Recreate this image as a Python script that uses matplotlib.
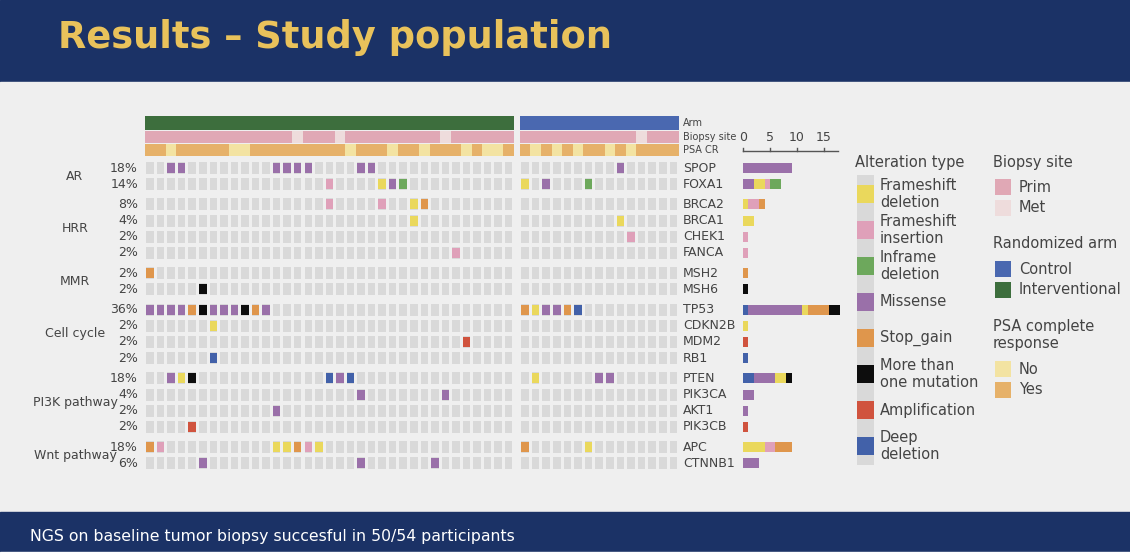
import matplotlib
matplotlib.use("Agg")
import matplotlib.pyplot as plt
from matplotlib.patches import Rectangle

genes = ["SPOP","FOXA1","BRCA2","BRCA1","CHEK1","FANCA","MSH2","MSH6","TP53","CDKN2B",
         "MDM2","RB1","PTEN","PIK3CA","AKT1","PIK3CB","APC","CTNNB1"]
percents = ["18%","14%","8%","4%","2%","2%","2%","2%","36%","2%","2%","2%","18%","4%","2%","2%","18%","6%"]
groups = ["AR","HRR","MMR","Cell cycle","PI3K pathway","Wnt pathway"]
group_sizes = [2,4,2,4,4,2]
# alterations: gene -> list of (patient column, code); columns 0-34 interventional, 35-49 control
alterations = {
 "SPOP":[(2,"M"),(3,"M"),(12,"M"),(13,"M"),(14,"M"),(15,"M"),(20,"M"),(21,"M"),(44,"M")],
 "FOXA1":[(17,"I"),(22,"D"),(23,"M"),(24,"F"),(35,"D"),(37,"M"),(41,"F")],
 "BRCA2":[(17,"I"),(22,"I"),(25,"D"),(26,"S")],
 "BRCA1":[(25,"D"),(44,"D")],
 "CHEK1":[(45,"I")],
 "FANCA":[(29,"I")],
 "MSH2":[(0,"S")],
 "MSH6":[(5,"X")],
 "TP53":[(0,"M"),(1,"M"),(2,"M"),(3,"M"),(4,"S"),(5,"X"),(6,"M"),(7,"M"),(8,"M"),(9,"X"),(10,"S"),(11,"M"),
         (35,"S"),(36,"D"),(37,"M"),(38,"M"),(39,"S"),(40,"L")],
 "CDKN2B":[(6,"D")],
 "MDM2":[(30,"A")],
 "RB1":[(6,"L")],
 "PTEN":[(2,"M"),(3,"D"),(4,"X"),(17,"L"),(18,"M"),(19,"L"),(36,"D"),(42,"M"),(43,"M")],
 "PIK3CA":[(20,"M"),(28,"M")],
 "AKT1":[(12,"M")],
 "PIK3CB":[(4,"A")],
 "APC":[(0,"S"),(1,"I"),(12,"D"),(13,"D"),(14,"S"),(15,"I"),(16,"D"),(35,"S"),(41,"D")],
 "CTNNB1":[(5,"M"),(20,"M"),(27,"M")],
}
n_left, n_right = 35, 15
biopsy_met = [14,18,28,46]
psa_no = [2,8,9,19,23,26,30,32,33,36,38,40,43,45]

alt_names = {"D":"Frameshift\ndeletion","I":"Frameshift\ninsertion","F":"Inframe\ndeletion","M":"Missense",
             "S":"Stop_gain","X":"More than\none mutation","A":"Amplification","L":"Deep\ndeletion"}
alt_colors = {"D":"#ead85c","I":"#dfa0b9","F":"#6da85c","M":"#9a70a9","S":"#df964c","X":"#0d0d0d",
              "A":"#d0533e","L":"#4261a9"}
legend_order = ["D","I","F","M","S","X","A","L"]
bar_order = ["L","M","D","I","F","S","X","A"]

fig = plt.figure(figsize=(11.3,5.56), dpi=100)
ax = fig.add_axes([0,0,1,1]); ax.set_xlim(0,1130); ax.set_ylim(556,0); ax.axis("off")
navy = "#1b3266"
ax.add_patch(Rectangle((0,0),1130,82,color=navy))
ax.add_patch(Rectangle((0,82),1130,430,color="#efefef"))
ax.add_patch(Rectangle((0,512),1130,40,color=navy))
ax.add_patch(Rectangle((0,552),1130,4,color="#ffffff"))
ax.text(58,38,"Results – Study population",color="#e9c25b",fontsize=26.5,fontweight="bold",va="center")
ax.text(30,536,"NGS on baseline tumor biopsy succesful in 50/54 participants",color="white",fontsize=11.3,va="center")

def colx(c):
    return 150 + c*10.55 if c < n_left else 525 + (c-n_left)*10.6

row_y = []; y = 168
for g, sz in zip(groups, group_sizes):
    for k in range(sz):
        row_y.append(y); y += 16.2
    y += 4
cw, ch = 7.5, 12
tc = "#444444"
for r, gname in enumerate(genes):
    yc = row_y[r]
    for c in range(n_left+n_right):
        ax.add_patch(Rectangle((colx(c)-cw/2, yc-ch/2), cw, ch, color="#d9d9d9", lw=0))
    for c, code in alterations[gname]:
        ax.add_patch(Rectangle((colx(c)-cw/2, yc-5), cw, 10, color=alt_colors[code], lw=0))
    ax.text(683, yc, gname, fontsize=9, color=tc, va="center")
    ax.text(138, yc, percents[r], fontsize=9, color=tc, va="center", ha="right")
    x0 = 743; sc = 5.4
    for code in bar_order:
        n = sum(1 for _, cd in alterations[gname] if cd == code)
        if n:
            ax.add_patch(Rectangle((x0, yc-5), n*sc, 10, color=alt_colors[code], lw=0))
            x0 += n*sc
idx = 0
for g, sz in zip(groups, group_sizes):
    yc = (row_y[idx] + row_y[idx+sz-1]) / 2
    ax.text(75, yc, g, fontsize=9, color=tc, va="center", ha="center")
    idx += sz

for c in range(n_left+n_right):
    w = 10.6; xl = colx(c) - w/2
    ax.add_patch(Rectangle((xl,116),w,14,color="#3d6e3d" if c < n_left else "#4a68b0",lw=0))
    ax.add_patch(Rectangle((xl,131),w,12,color="#eedcdc" if c in biopsy_met else "#e0a8b5",lw=0))
    ax.add_patch(Rectangle((xl,144),w,12,color="#f3e3a2" if c in psa_no else "#e6b169",lw=0))
for lab, yy in [("Arm",123),("Biopsy site",137),("PSA CR",150)]:
    ax.text(683, yy, lab, fontsize=7, color=tc, va="center")

ax.plot([743,838],[151,151],color="#555",lw=1)
for t in [0,5,10,15]:
    xx = 743 + t*5.4
    ax.plot([xx,xx],[148,151],color="#555",lw=1)
    ax.text(xx,144,str(t),fontsize=9,color=tc,ha="center",va="bottom")

ax.text(855,162,"Alteration type",fontsize=10.5,color=tc,va="center")
ax.add_patch(Rectangle((857,175),17,290,color="#d9d9d9",lw=0))
for i, code in enumerate(legend_order):
    yc = 194 + i*36
    ax.add_patch(Rectangle((857,yc-9),17,18,color=alt_colors[code],lw=0))
    ax.text(880, yc, alt_names[code], fontsize=10.5, color=tc, va="center", linespacing=1.1)

def leg(title, ty, items):
    ax.text(993, ty, title, fontsize=10.5, color=tc, va="center", linespacing=1.1)
    for lab, col, yy in items:
        ax.add_patch(Rectangle((995,yy-8),16,16,color=col,lw=0))
        ax.text(1019, yy, lab, fontsize=10.5, color=tc, va="center")
leg("Biopsy site",162,[("Prim","#e0a8b5",187),("Met","#eedcdc",208)])
leg("Randomized arm",244,[("Control","#4a68b0",269),("Interventional","#3d6e3d",290)])
leg("PSA complete\nresponse",335,[("No","#f3e3a2",369),("Yes","#e6b169",390)])

fig.savefig("out.png", dpi=100)
